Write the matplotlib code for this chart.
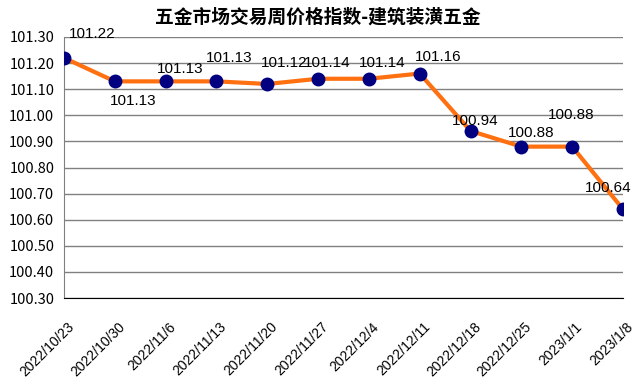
import matplotlib
matplotlib.use("Agg")
import matplotlib.pyplot as plt
import matplotlib.transforms as mtransforms

dates = ["2022/10/23", "2022/10/30", "2022/11/6", "2022/11/13", "2022/11/20", "2022/11/27",
         "2022/12/4", "2022/12/11", "2022/12/18", "2022/12/25", "2023/1/1", "2023/1/8"]
values = [101.22, 101.13, 101.13, 101.13, 101.12, 101.14, 101.14, 101.16, 100.94, 100.88, 100.88, 100.64]
title = "五金市场交易周价格指数-建筑装潢五金"
# label offsets in pixels (dx, dy) relative to point
offsets = [(28, 24), (18, -20), (15, 12), (13, 23), (17, 21), (9, 16), (13, 16), (18, 17),
           (5, 10), (10, 14), (-1, 32), (-15, 21)]

fig = plt.figure(figsize=(6.36, 3.87), dpi=100)
ax = fig.add_axes([64/636, 1-298/387, (623-64)/636, (298-37)/387])

x = list(range(len(values)))
ax.plot(x, values, color="#FF7010", lw=3, zorder=3, solid_joinstyle="miter")
ax.plot(x, values, "o", color="#000080", ms=9, zorder=4)

ax.set_xlim(0, len(values)-1)
ax.set_ylim(100.30, 101.30)
yt = [100.30 + 0.1*i for i in range(11)]
ax.set_yticks(yt)
ax.set_yticklabels([f"{v:.2f}" for v in yt], family=["Noto Sans CJK SC", "DejaVu Sans"], fontsize=10.5)
ax.yaxis.grid(True, color="#808080", lw=1)
ax.set_axisbelow(True)
ax.tick_params(axis="both", length=0)
ax.tick_params(axis="y", pad=7)

ax.set_xticks(x)
ax.set_xticklabels(dates, rotation=45, ha="right", va="top", rotation_mode="anchor",
                   family="Liberation Sans", fontsize=10)
off = mtransforms.ScaledTranslation(3/100, -17/100, fig.dpi_scale_trans)
for lab in ax.get_xticklabels():
    lab.set_transform(lab.get_transform() + off)

for s in ["top", "right"]:
    ax.spines[s].set_visible(False)
ax.spines["left"].set_color("#808080")
ax.spines["bottom"].set_color("black")

for xi, v, (dx, dy) in zip(x, values, offsets):
    ax.annotate(f"{v:.2f}", (xi, v), xytext=(dx*0.72, dy*0.72), textcoords="offset points",
                ha="center", va="center", family="Liberation Sans", fontsize=11, zorder=5)

fig.text(0.5, 1-17/387, title, ha="center", va="center", fontsize=13.5,
         family=["Noto Sans CJK SC", "DejaVu Sans"], weight="bold")

fig.savefig("out.png", dpi=100)
